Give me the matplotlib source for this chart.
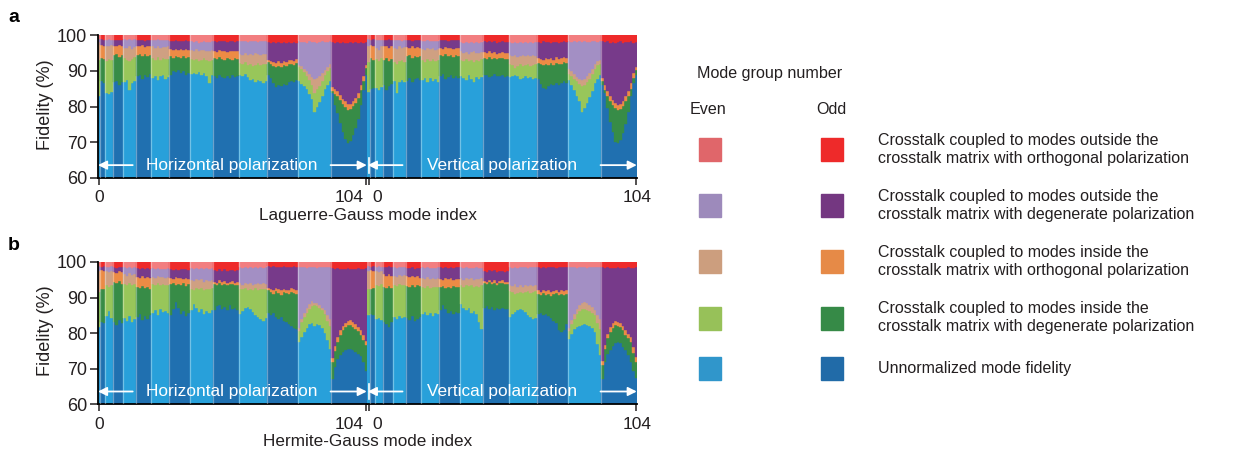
import matplotlib
matplotlib.use("Agg")
import matplotlib.pyplot as plt
import numpy as np

plt.rcParams['font.family'] = ['Liberation Sans', 'DejaVu Sans']

# ---------------- data ----------------
group_sizes = [1, 2, 3, 4, 5, 6, 7, 8, 9, 10, 11, 12, 13, 14]
mode_index = list(range(105))
xtick_vals = [0, 104]
ytick_vals = [60, 70, 80, 90, 100]

# Cumulative tops of the stacked segments (%). The segment above the last top up to 100 is
# "outside, orthogonal polarization".
# ---- a: Laguerre-Gauss, horizontal polarization
lgh_fidelity = [82.8, 87.0, 86.6, 83.8, 83.4, 84.0, 86.8, 87.2, 86.0, 86.9,
                86.8, 87.3, 84.6, 86.5, 87.0, 88.4, 88.9, 87.6, 88.8, 88.2, 89.0,
                88.0, 88.6, 87.3, 88.5, 88.9, 87.8, 88.3,
                88.9, 90.0, 89.7, 90.2, 89.4, 89.9, 88.8, 89.3,
                89.0, 89.5, 89.2, 89.6, 88.9, 89.3, 88.6, 86.5, 88.7,
                88.6, 88.0, 88.9, 88.3, 87.9, 88.5, 88.1, 88.7, 88.2, 88.4,
                88.8, 88.5, 89.0, 88.2, 87.5, 87.8, 86.9, 87.3, 87.0, 86.7, 87.2,
                88.8, 87.9, 86.5, 85.4, 85.9, 85.6, 86.3, 86.0, 86.8, 87.2, 86.9, 87.5,
                87.0, 86.4, 85.8, 85.0, 83.6, 82.0, 78.6, 80.0, 81.2, 82.8, 85.0, 86.0, 87.2,
                83.7, 80.5, 78.2, 75.5, 72.8, 70.8, 69.8, 70.4, 72.0, 74.0, 76.5, 80.5, 84.5, 88.8]
lgh_in_deg_top = [93.0, 93.5, 93.2, 92.8, 93.3, 93.0, 94.5, 94.8, 93.9, 94.3,
                  93.5, 93.0, 92.6, 93.4, 93.8, 94.4, 94.8, 94.0, 94.6, 94.2, 94.5,
                  93.5, 93.0, 93.8, 92.9, 93.6, 93.2, 93.4,
                  94.0, 93.6, 94.2, 93.8, 93.5, 94.1, 93.7, 93.9,
                  93.2, 93.0, 93.4, 92.8, 93.1, 93.5, 92.9, 92.6, 93.0,
                  93.5, 93.2, 93.8, 93.4, 93.0, 93.6, 93.3, 93.1, 93.5, 93.4,
                  92.3, 91.8, 92.5, 91.5, 92.0, 91.3, 91.7, 92.1, 91.6, 91.9, 92.0,
                  92.5, 91.8, 91.2, 91.0, 91.4, 91.1, 91.6, 91.3, 91.8, 92.0, 91.7, 92.3,
                  91.1, 90.5, 89.7, 88.6, 87.5, 86.0, 83.7, 84.8, 85.8, 87.2, 88.8, 89.8, 90.8,
                  84.2, 83.5, 82.8, 81.8, 80.7, 79.8, 79.0, 79.2, 80.1, 81.0, 82.4, 84.5, 87.0, 90.7]
lgh_in_orth_top = [98.0, 97.2, 97.0, 97.0, 96.8, 97.2, 97.0, 96.8, 97.1, 96.9,
                   96.5, 96.3, 96.8, 96.2, 96.6, 97.0, 96.8, 97.2, 96.7, 96.9, 97.0,
                   96.8, 96.5, 96.9, 96.4, 96.7, 96.6, 96.8,
                   96.0, 95.8, 96.2, 95.9, 96.1, 95.7, 96.0, 95.9,
                   95.8, 95.6, 96.0, 95.5, 95.9, 95.7, 95.4, 95.6, 95.8,
                   95.5, 95.3, 95.7, 95.4, 95.6, 95.2, 95.5, 95.4, 95.6, 95.5,
                   94.8, 94.5, 95.0, 94.3, 94.7, 94.4, 94.9, 94.6, 94.5, 94.8, 94.7,
                   93.0, 92.6, 92.4, 92.2, 92.6, 92.3, 92.8, 92.5, 92.9, 93.1, 92.8, 93.4,
                   91.6, 91.2, 90.6, 89.8, 89.0, 88.2, 87.6, 88.0, 88.6, 89.4, 90.3, 91.0, 91.8,
                   85.5, 84.8, 84.2, 83.2, 82.2, 81.4, 80.6, 80.8, 81.6, 82.5, 83.8, 86.0, 88.5, 91.6]
lgh_out_deg_top = [99.0, 98.8, 98.7, 98.6, 98.8, 98.7, 98.6, 98.5, 98.7, 98.6,
                   98.8, 98.7, 98.9, 98.6, 98.8, 98.6, 98.5, 98.7, 98.4, 98.6, 98.5,
                   98.7, 98.6, 98.8, 98.5, 98.7, 98.6, 98.7,
                   98.4, 98.3, 98.5, 98.2, 98.4, 98.3, 98.5, 98.4,
                   98.2, 98.0, 98.3, 97.9, 98.1, 98.2, 98.0, 98.1, 98.2,
                   98.3, 98.1, 98.4, 98.2, 98.3, 98.0, 98.2, 98.3, 98.1, 98.2,
                   98.3, 98.2, 98.4, 98.1, 98.3, 98.2, 98.4, 98.1, 98.3, 98.2, 98.3,
                   98.0, 97.8, 98.1, 97.9, 98.0, 97.7, 98.0, 97.9, 98.1, 97.8, 98.0, 97.9,
                   98.2, 98.0, 98.1, 97.9, 98.2, 98.0, 98.1, 97.9, 98.0, 98.2, 98.1, 98.0, 98.2,
                   98.0, 97.9, 98.1, 97.8, 98.0, 97.7, 97.9, 98.0, 97.8, 98.1, 97.9, 98.0, 97.8, 98.1]

# ---- a: Laguerre-Gauss, vertical polarization
lgv_fidelity = [84.0, 84.8, 85.3, 85.2, 84.6, 85.5, 86.0, 84.5, 85.8, 86.3,
                87.0, 83.7, 86.8, 87.5, 86.9, 87.2, 88.0, 86.9, 87.6, 88.1, 87.4,
                87.3, 88.0, 86.8, 87.9, 87.2, 87.8, 86.9,
                88.5, 89.0, 87.6, 88.2, 88.8, 87.9, 88.4, 88.0,
                88.6, 88.0, 87.5, 88.9, 87.8, 86.9, 88.2, 87.6, 88.3,
                88.7, 88.9, 88.2, 88.6, 89.0, 88.4, 88.5, 88.8, 88.3, 88.6,
                88.3, 88.6, 88.9, 88.4, 87.6, 88.1, 88.5, 87.9, 88.2, 87.8, 88.0,
                87.8, 86.4, 85.3, 85.0, 85.8, 86.2, 85.9, 86.5, 86.0, 86.7, 87.0, 86.6,
                87.4, 86.0, 84.5, 82.8, 81.4, 78.6, 79.5, 81.0, 82.6, 84.2, 86.5, 87.8, 88.8,
                86.0, 83.7, 79.5, 75.8, 73.0, 70.2, 69.7, 70.6, 72.5, 75.0, 78.5, 82.8, 86.5, 88.8]
lgv_in_deg_top = [92.5, 93.5, 93.0, 93.2, 92.8, 93.5, 93.0, 93.6, 92.8, 93.4,
                  92.5, 92.0, 92.8, 93.0, 92.4, 94.0, 94.3, 93.7, 94.1, 93.8, 94.2,
                  93.0, 92.5, 93.4, 92.8, 93.2, 92.6, 93.1,
                  94.3, 94.0, 94.6, 94.2, 94.5, 93.9, 94.3, 94.1,
                  93.0, 92.6, 93.3, 92.8, 93.1, 92.5, 93.0, 92.7, 93.2,
                  93.5, 93.3, 93.8, 93.4, 93.6, 93.2, 93.5, 93.7, 93.3, 93.4,
                  92.0, 91.5, 90.8, 91.3, 91.8, 91.2, 91.6, 91.9, 91.4, 91.7, 92.0,
                  92.2, 91.8, 91.5, 92.0, 91.7, 92.1, 91.6, 92.3, 92.0, 91.9, 92.4, 92.2,
                  89.0, 88.5, 87.8, 87.0, 86.4, 85.6, 86.0, 86.8, 87.8, 89.0, 90.5, 91.5, 92.0,
                  87.0, 84.5, 82.8, 81.5, 80.4, 79.6, 79.0, 79.3, 80.2, 81.4, 82.8, 85.0, 88.0, 90.3]
lgv_in_orth_top = [97.0, 97.2, 97.0, 96.5, 95.8, 96.8, 96.8, 97.0, 96.5, 96.9,
                   96.5, 96.0, 96.8, 96.3, 96.6, 96.6, 96.3, 96.8, 96.5, 96.7, 96.4,
                   96.2, 95.8, 96.4, 96.0, 96.3, 95.9, 96.1,
                   96.4, 96.2, 96.6, 96.3, 96.5, 96.1, 96.4, 96.3,
                   95.5, 95.0, 95.3, 94.8, 95.2, 95.4, 94.9, 95.1, 95.3,
                   95.2, 94.9, 95.4, 95.0, 95.3, 94.8, 95.1, 95.2, 94.9, 95.0,
                   94.5, 94.0, 94.3, 93.8, 94.2, 94.4, 94.0, 94.3, 94.1, 94.5, 94.2,
                   93.6, 93.2, 93.0, 93.5, 93.3, 93.7, 93.1, 93.8, 93.4, 93.5, 93.9, 93.6,
                   90.5, 89.8, 89.0, 88.3, 87.8, 87.4, 87.8, 88.5, 89.5, 90.6, 91.8, 92.6, 93.0,
                   88.0, 86.0, 84.3, 83.0, 81.8, 81.0, 80.4, 80.6, 81.5, 82.8, 84.3, 86.5, 89.3, 91.0]
lgv_out_deg_top = [98.8, 98.7, 98.8, 98.6, 98.7, 98.5, 98.7, 98.6, 98.8, 98.5,
                   98.6, 98.5, 98.7, 98.4, 98.6, 98.5, 98.7, 98.4, 98.6, 98.5, 98.6,
                   98.4, 98.3, 98.5, 98.2, 98.4, 98.3, 98.4,
                   98.6, 98.5, 98.7, 98.4, 98.6, 98.5, 98.6, 98.5,
                   98.0, 97.8, 98.1, 97.9, 98.0, 97.7, 98.0, 97.9, 98.1,
                   98.2, 98.0, 98.3, 98.1, 98.2, 97.9, 98.1, 98.2, 98.0, 98.1,
                   98.0, 97.9, 98.1, 97.8, 98.0, 97.9, 98.1, 97.8, 98.0, 97.9, 98.0,
                   98.1, 97.9, 98.2, 98.0, 98.1, 97.8, 98.0, 98.1, 97.9, 98.0, 98.2, 98.0,
                   98.3, 98.1, 98.2, 98.0, 98.3, 98.1, 98.2, 98.0, 98.1, 98.3, 98.2, 98.1, 98.3,
                   98.2, 98.0, 98.3, 97.9, 98.1, 97.8, 98.0, 98.2, 97.9, 98.1, 98.0, 98.2, 97.9, 98.1]

# ---- b: Hermite-Gauss, horizontal polarization
hgh_fidelity = [81.7, 83.2, 82.8, 84.8, 86.2, 84.3, 83.0, 82.3, 83.8, 82.8,
                84.2, 83.5, 84.8, 83.2, 84.0, 84.5, 85.3, 83.6, 84.8, 84.0, 85.0,
                85.8, 86.5, 85.2, 86.8, 85.9, 86.2, 85.6,
                85.0, 86.8, 88.8, 87.0, 85.5, 86.2, 84.8, 85.6,
                86.5, 88.3, 87.0, 86.0, 86.8, 85.5, 86.2, 85.8, 86.4,
                86.5, 87.5, 88.0, 86.8, 87.3, 86.4, 87.8, 86.9, 87.2, 86.6,
                85.5, 86.3, 87.0, 87.3, 86.8, 85.9, 85.2, 84.5, 84.0, 83.3, 84.2,
                85.8, 85.2, 85.6, 84.6, 84.0, 84.5, 83.5, 83.0, 82.6, 82.0, 81.5, 81.2,
                77.5, 78.8, 80.3, 81.5, 82.5, 82.8, 82.0, 82.5, 82.3, 81.5, 80.0, 78.0, 75.6,
                67.2, 70.5, 72.8, 73.8, 74.7, 75.2, 75.6, 75.6, 75.3, 74.8, 74.2, 73.5, 71.8, 69.5]
hgh_in_deg_top = [91.5, 92.5, 92.3, 93.4, 93.0, 93.6, 94.3, 94.0, 94.6, 93.8,
                  93.8, 93.5, 94.0, 93.6, 93.9, 93.0, 92.6, 93.3, 92.8, 93.1, 92.5,
                  93.7, 93.5, 94.0, 93.4, 93.8, 93.6, 93.5,
                  93.8, 94.2, 93.5, 93.9, 93.6, 94.0, 93.3, 93.7,
                  92.5, 92.2, 92.8, 92.4, 92.6, 92.0, 92.5, 92.3, 92.7,
                  93.8, 93.5, 94.0, 93.6, 93.9, 93.4, 93.7, 93.8, 93.5, 93.6,
                  92.5, 92.3, 92.6, 92.0, 92.4, 92.2, 92.6, 92.1, 92.3, 92.5, 92.4,
                  92.0, 91.5, 91.0, 91.8, 91.3, 90.8, 91.5, 91.2, 91.0, 91.6, 91.3, 91.0,
                  80.5, 83.0, 84.5, 85.8, 86.8, 87.6, 87.9, 87.5, 87.2, 86.5, 85.5, 83.5, 82.0,
                  71.8, 75.0, 77.5, 79.5, 80.8, 81.6, 82.2, 82.3, 81.8, 81.2, 80.5, 79.6, 78.2, 76.6]
hgh_in_orth_top = [97.5, 97.7, 97.5, 97.6, 97.2, 97.4, 97.3, 97.0, 97.4, 97.1,
                   96.6, 96.2, 96.8, 96.4, 96.5, 95.8, 95.4, 96.0, 95.6, 95.9, 95.5,
                   95.9, 95.6, 96.1, 95.7, 95.9, 95.5, 95.8,
                   95.5, 95.2, 95.7, 95.4, 95.6, 95.1, 95.4, 95.3,
                   95.0, 94.6, 95.2, 94.8, 95.1, 94.5, 94.9, 94.7, 95.0,
                   94.5, 94.0, 94.8, 94.3, 94.6, 94.1, 94.4, 94.7, 94.2, 94.5,
                   94.0, 93.6, 94.2, 93.8, 94.1, 93.5, 93.9, 94.2, 93.7, 94.0, 93.8,
                   92.8, 92.4, 92.1, 92.7, 92.3, 92.0, 92.5, 92.2, 92.0, 92.6, 92.3, 92.0,
                   81.5, 84.0, 85.6, 87.0, 88.3, 88.9, 88.6, 88.4, 87.9, 87.2, 86.4, 85.0, 84.0,
                   73.0, 76.3, 78.8, 80.8, 82.1, 82.9, 83.5, 83.6, 83.1, 82.5, 81.8, 80.9, 79.5, 77.8]
hgh_out_deg_top = [99.0, 98.6, 98.8, 98.7, 98.5, 98.8, 98.6, 98.4, 98.7, 98.5,
                   98.5, 98.3, 98.6, 98.4, 98.5, 98.3, 98.0, 98.4, 98.1, 98.2, 98.0,
                   98.2, 98.0, 98.3, 97.9, 98.1, 98.0, 98.2,
                   98.0, 97.8, 98.1, 97.7, 98.0, 97.9, 98.0, 97.8,
                   98.3, 98.1, 98.4, 98.0, 98.2, 98.1, 98.3, 98.0, 98.2,
                   97.8, 97.5, 98.0, 97.6, 97.9, 97.4, 97.7, 97.8, 97.5, 97.7,
                   98.5, 98.3, 98.6, 98.2, 98.5, 98.4, 98.6, 98.3, 98.5, 98.4, 98.5,
                   98.8, 98.6, 98.9, 98.5, 98.7, 98.6, 98.8, 98.5, 98.7, 98.6, 98.8, 98.7,
                   98.6, 98.5, 98.7, 98.4, 98.6, 98.5, 98.7, 98.4, 98.6, 98.5, 98.7, 98.5, 98.6,
                   98.2, 98.0, 98.3, 97.9, 98.1, 98.0, 98.2, 97.9, 98.1, 98.0, 98.2, 97.9, 98.1, 98.2]

# ---- b: Hermite-Gauss, vertical polarization
hgv_fidelity = [85.0, 85.5, 85.2, 84.0, 84.3, 83.8, 83.2, 82.5, 81.8, 83.0,
                84.5, 84.0, 84.8, 84.2, 84.6, 84.3, 83.8, 84.9, 83.5, 84.1, 84.6,
                85.5, 86.0, 85.2, 85.8, 84.9, 85.6, 85.3,
                86.5, 88.0, 86.8, 85.6, 86.2, 85.4, 86.0, 85.8,
                88.3, 87.2, 86.5, 87.0, 85.8, 86.3, 85.5, 83.0, 81.2,
                87.0, 87.5, 86.8, 87.3, 86.6, 87.2, 86.9, 87.1, 86.8, 86.9,
                84.5, 85.3, 86.0, 86.5, 86.9, 86.5, 86.0, 85.2, 84.6, 84.0, 84.3,
                85.5, 85.8, 85.0, 85.3, 84.7, 84.2, 83.5, 82.8, 81.0, 80.3, 80.8, 82.5,
                78.4, 79.8, 81.3, 81.8, 82.0, 82.2, 82.5, 82.2, 82.0, 81.5, 80.3, 77.0, 73.8,
                67.2, 72.0, 74.0, 75.2, 76.5, 77.3, 77.5, 77.2, 76.2, 75.3, 73.8, 71.9, 69.5, 67.3]
hgv_in_deg_top = [92.5, 92.5, 92.8, 93.5, 93.2, 93.8, 93.0, 92.6, 93.2, 92.8,
                  93.5, 93.2, 93.7, 93.4, 93.6, 93.3, 93.0, 93.5, 93.1, 93.4, 93.2,
                  93.0, 92.7, 93.2, 92.8, 93.1, 92.9, 93.0,
                  93.0, 93.3, 92.7, 93.1, 92.8, 93.2, 92.9, 93.0,
                  93.4, 93.1, 93.6, 93.2, 93.5, 93.0, 93.3, 93.1, 93.4,
                  94.0, 93.7, 94.3, 93.8, 94.1, 93.6, 94.0, 94.2, 93.8, 93.9,
                  91.8, 91.5, 91.0, 91.4, 91.7, 91.2, 91.6, 91.9, 91.3, 91.5, 91.8,
                  91.0, 90.6, 91.2, 90.8, 91.1, 90.5, 90.9, 91.2, 90.7, 91.0, 90.8, 91.1,
                  80.5, 82.5, 84.0, 85.3, 86.2, 86.9, 86.8, 86.5, 86.2, 85.8, 85.0, 82.8, 81.3,
                  71.0, 75.5, 78.5, 80.3, 81.5, 82.2, 82.0, 81.7, 80.8, 79.6, 78.6, 77.5, 74.5, 71.9]
hgv_in_orth_top = [97.5, 97.8, 97.6, 97.5, 97.3, 97.6, 96.5, 96.0, 96.7, 96.2,
                   96.2, 95.8, 96.4, 96.0, 96.3, 96.0, 95.7, 96.2, 95.8, 96.1, 95.6,
                   95.5, 95.2, 95.7, 95.3, 95.6, 95.1, 95.4,
                   95.3, 95.0, 95.5, 95.1, 95.4, 94.9, 95.2, 95.1,
                   95.4, 95.0, 95.6, 95.2, 95.5, 94.9, 95.3, 95.1, 95.4,
                   94.7, 94.3, 94.9, 94.5, 94.8, 94.2, 94.6, 94.8, 94.4, 94.5,
                   93.5, 93.2, 93.7, 93.0, 93.4, 93.1, 93.6, 93.3, 93.5, 93.2, 93.4,
                   92.0, 91.7, 92.2, 91.8, 92.1, 91.6, 91.9, 92.2, 91.7, 92.0, 91.8, 92.1,
                   81.5, 83.8, 85.5, 86.8, 87.8, 88.4, 88.8, 88.5, 88.0, 87.3, 86.5, 85.2, 84.1,
                   72.2, 76.8, 79.8, 81.6, 82.8, 83.3, 83.1, 82.9, 82.0, 80.9, 79.9, 78.9, 76.0, 73.2]
hgv_out_deg_top = [98.8, 98.7, 98.9, 98.6, 98.8, 98.5, 98.7, 98.5, 98.8, 98.6,
                   98.6, 98.4, 98.7, 98.5, 98.6, 98.4, 98.2, 98.5, 98.1, 98.3, 98.2,
                   98.5, 98.3, 98.6, 98.2, 98.4, 98.3, 98.5,
                   98.6, 98.4, 98.7, 98.3, 98.5, 98.4, 98.6, 98.5,
                   98.5, 98.3, 98.6, 98.2, 98.4, 98.3, 98.5, 98.2, 98.4,
                   97.6, 97.3, 97.8, 97.4, 97.7, 97.2, 97.5, 97.6, 97.3, 97.5,
                   98.6, 98.4, 98.7, 98.3, 98.6, 98.5, 98.7, 98.4, 98.6, 98.5, 98.6,
                   98.6, 98.4, 98.7, 98.3, 98.6, 98.5, 98.7, 98.4, 98.6, 98.5, 98.7, 98.6,
                   98.6, 98.5, 98.7, 98.4, 98.6, 98.5, 98.7, 98.4, 98.6, 98.5, 98.7, 98.5, 98.6,
                   98.5, 98.3, 98.6, 98.2, 98.4, 98.3, 98.5, 98.2, 98.4, 98.3, 98.5, 98.2, 98.4, 98.5]

legend_labels = ["Crosstalk coupled to modes outside the\ncrosstalk matrix with orthogonal polarization",
                 "Crosstalk coupled to modes outside the\ncrosstalk matrix with degenerate polarization",
                 "Crosstalk coupled to modes inside the\ncrosstalk matrix with orthogonal polarization",
                 "Crosstalk coupled to modes inside the\ncrosstalk matrix with degenerate polarization",
                 "Unnormalized mode fidelity"]

# colours: (even group, odd group) for each component, bottom to top
even_colors = ['#28A0DA', '#98C65A', '#CFA082', '#A38FC4', '#F27E80']
odd_colors = ['#2070B0', '#378C47', '#EC8B45', '#773A8A', '#EE2A2A']
legend_even = ['#E0666A', '#9D8ABB', '#CC9E7E', '#97C159', '#3096CB']
legend_odd = ['#EE2A2A', '#743781', '#E68A47', '#368A47', '#216BA8']
TXT = '#231F20'

# ---------------- figure ----------------
W, H = 1233, 455
fig = plt.figure(figsize=(W / 100, H / 100), dpi=100)


def px_axes(x0, x1, ytop, ybot):
    return fig.add_axes([x0 / W, 1 - ybot / H, (x1 - x0) / W, (ybot - ytop) / H])


group_id = np.repeat(np.arange(len(group_sizes)), group_sizes)
boundaries = np.cumsum(group_sizes)[:-1] - 0.5
x = np.array(mode_index)


def draw(ax, tops, pol_text, left):
    prev = np.zeros(len(x))
    full = list(tops) + [[100.0] * len(x)]
    for k, top in enumerate(full):
        top = np.array(top)
        cols = [odd_colors[k] if g % 2 == 1 else even_colors[k] for g in group_id]
        ax.bar(x, top - prev, bottom=prev, width=1.0, color=cols, edgecolor=cols,
               linewidth=0.3, zorder=2)
        prev = top
    for b in boundaries:
        ax.axvline(b, color='white', alpha=0.35, lw=0.9, zorder=3)
    ax.set_xlim(-0.5, 104.5)
    ax.set_ylim(60, 100)
    for s in ['top', 'right']:
        ax.spines[s].set_visible(False)
    ax.spines['bottom'].set_linewidth(1.3)
    ax.spines['left'].set_linewidth(1.3)
    ax.set_xticks(xtick_vals)
    ax.set_xticklabels([])
    ax.tick_params(axis='x', length=5, width=1.1, color=TXT)
    if left:
        ax.set_yticks(ytick_vals)
        ax.set_yticklabels([str(v) for v in ytick_vals], fontsize=13, color=TXT)
        ax.tick_params(axis='y', length=6, width=1.1, pad=1.5, color=TXT)
    else:
        ax.spines['left'].set_visible(False)
        ax.set_yticks([])
    # polarization text with arrows
    ya = 63.6
    ax.text(51.8, ya, pol_text, color='white', fontsize=12.4, ha='center', va='center', zorder=5)
    arrow = dict(arrowstyle='-|>', color='white', lw=1.3, mutation_scale=13, shrinkA=0, shrinkB=0)
    ax.annotate('', xy=(-0.3, ya), xytext=(13.2, ya), arrowprops=arrow, zorder=5)
    ax.annotate('', xy=(104.3, ya), xytext=(90.2, ya), arrowprops=arrow, zorder=5)


def tick_labels(ybot):
    # 0 and 104 below each sub-axes
    y = ybot + 20
    fig.text(98.7 / W, 1 - y / H, '0', fontsize=12.5, ha='center', va='center', color=TXT)
    fig.text(363.5 / W, 1 - y / H, '104', fontsize=12.5, ha='right', va='center', color=TXT)
    fig.text(372.5 / W, 1 - y / H, '0', fontsize=12.5, ha='left', va='center', color=TXT)
    fig.text(637.3 / W, 1 - y / H, '104', fontsize=12.5, ha='center', va='center', color=TXT)


panels = [
    ('a', 35, 178, [lgh_fidelity, lgh_in_deg_top, lgh_in_orth_top, lgh_out_deg_top],
     [lgv_fidelity, lgv_in_deg_top, lgv_in_orth_top, lgv_out_deg_top], 'Laguerre-Gauss mode index'),
    ('b', 262, 404.3, [hgh_fidelity, hgh_in_deg_top, hgh_in_orth_top, hgh_out_deg_top],
     [hgv_fidelity, hgv_in_deg_top, hgv_in_orth_top, hgv_out_deg_top], 'Hermite-Gauss mode index'),
]

for letter, ytop, ybot, th, tv, xlabel in panels:
    axl = px_axes(97.5, 367.3, ytop, ybot)
    axr = px_axes(367.3, 637.3, ytop, ybot)
    draw(axl, th, 'Horizontal polarization', True)
    draw(axr, tv, 'Vertical polarization', False)
    # short white divider between the two arrows
    yd = ytop + (ybot - ytop) * (100 - 63.6) / 40
    fig.add_artist(plt.Line2D([368.8 / W, 368.8 / W], [1 - (yd - 7.5) / H, 1 - (yd + 7.5) / H],
                              color='white', lw=1.2, zorder=10))
    tick_labels(ybot)
    fig.text(368 / W, 1 - (ybot + 37.5) / H, xlabel, fontsize=12.3, ha='center', va='center', color=TXT)
    fig.text(46 / W, 1 - ((ytop + ybot) / 2 - 2) / H, 'Fidelity (%)', fontsize=13, rotation=90,
             ha='center', va='center', color=TXT)
    fig.text(8 / W, 1 - (ytop - 17) / H, letter, fontsize=14, fontweight='bold', ha='left',
             va='center', color='black')

# ---------------- legend ----------------
fig.text(697 / W, 1 - 73.5 / H, 'Mode group number', fontsize=11.6, ha='left', va='center', color=TXT)
fig.text(690 / W, 1 - 109 / H, 'Even', fontsize=11.6, ha='left', va='center', color=TXT)
fig.text(816 / W, 1 - 109 / H, 'Odd', fontsize=11.6, ha='left', va='center', color=TXT)
row_y = [149, 205.5, 261.5, 318, 368.5]
for yc, lab, ce, co in zip(row_y, legend_labels, legend_even, legend_odd):
    for x0, c in [(699, ce), (821, co)]:
        fig.add_artist(plt.Rectangle((x0 / W, 1 - (yc + 11.5) / H), 22 / W, 23 / H,
                                     color=c, transform=fig.transFigure))
    fig.text(878 / W, 1 - yc / H, lab, fontsize=11.5, ha='left', va='center', color=TXT,
             linespacing=1.25)

fig.savefig('out.png', dpi=100)
